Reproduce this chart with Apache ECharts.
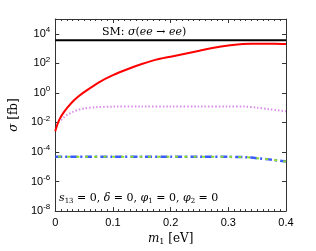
<!DOCTYPE html>
<html><head><meta charset="utf-8">
<script src="https://cdn.jsdelivr.net/npm/echarts@6/dist/echarts.min.js"></script>
<style>html,body{margin:0;padding:0;background:#fff}#c{width:316px;height:251px}</style>
</head><body><div id="c"></div>
<script>
// m1 values [eV]
var m1Red = [0.0, 0.005, 0.01, 0.015, 0.02, 0.03, 0.04, 0.05, 0.075, 0.1, 0.125, 0.15, 0.175, 0.2, 0.225, 0.25, 0.275, 0.3, 0.325, 0.34, 0.36, 0.38, 0.4];
var log10Red = [-2.6, -2.0, -1.6, -1.3, -1.05, -0.6, -0.25, 0.05, 0.7, 1.2, 1.6, 1.95, 2.25, 2.45, 2.65, 2.85, 3.05, 3.2, 3.3, 3.33, 3.33, 3.33, 3.3];
var m1Mag = [0.01, 0.015, 0.02, 0.03, 0.04, 0.05, 0.07, 0.1, 0.15, 0.2, 0.25, 0.3, 0.33, 0.35, 0.37, 0.4];
var log10Mag = [-1.85, -1.65, -1.5, -1.3, -1.15, -1.05, -0.97, -0.93, -0.92, -0.92, -0.92, -0.92, -0.93, -1.0, -1.1, -1.25];
var m1Low = [0.0, 0.05, 0.1, 0.15, 0.2, 0.25, 0.3, 0.33, 0.35, 0.37, 0.4];
var log10Blue = [-4.33, -4.33, -4.33, -4.33, -4.33, -4.33, -4.33, -4.35, -4.42, -4.5, -4.65];
var log10Green = [-4.33, -4.33, -4.33, -4.33, -4.33, -4.33, -4.33, -4.35, -4.42, -4.5, -4.65];
var smValue = 3600;
var xTicks = [0, 0.1, 0.2, 0.3, 0.4];
var yTickExps = [-8, -6, -4, -2, 0, 2, 4];

function pairs(xs, ls){ return xs.map(function(x,i){ return [x, Math.pow(10, ls[i])]; }); }

var chart = echarts.init(document.getElementById('c'), null, {renderer:'canvas'});
var axisCol = '#333';
var serif = '"DejaVu Serif", "Liberation Serif", serif';
var sans = '"Liberation Sans", Arial, sans-serif';
chart.setOption({
  animation:false,
  grid:{left:41, right:30, top:19, bottom:36, show:false},
  xAxis:[{
    type:'value', min:0, max:0.4, interval:0.1, position:'bottom',
    axisLine:{show:true, onZero:false, lineStyle:{color:axisCol, width:1}},
    axisTick:{show:true, inside:true, length:4, lineStyle:{color:axisCol}},
    minorTick:{show:true, splitNumber:10, length:2, lineStyle:{color:axisCol}},
    splitLine:{show:false},
    axisLabel:{color:'#000', fontFamily:sans, fontSize:11, margin:6,
      formatter:function(v){ return xTicks.indexOf(Math.round(v*10)/10)>=0 ? String(Math.round(v*10)/10) : ''; }},
    name:'{i|m}{s|1}{n| [eV]}', nameLocation:'middle', nameGap:19,
    nameTextStyle:{rich:{i:{fontFamily:serif, fontStyle:'italic', fontSize:12, color:'#000'}, s:{fontFamily:serif, fontSize:8, verticalAlign:'bottom', padding:[6,0,0,0], color:'#000'}, n:{fontFamily:serif, fontSize:12, color:'#000'}}}
  },{
    type:'value', min:0, max:0.4, interval:0.1, position:'top',
    axisLine:{show:true, onZero:false, lineStyle:{color:axisCol, width:1}},
    axisTick:{show:true, inside:true, length:4, lineStyle:{color:axisCol}},
    minorTick:{show:true, splitNumber:10, length:2, lineStyle:{color:axisCol}},
    splitLine:{show:false}, axisLabel:{show:false}
  }],
  yAxis:[{
    type:'log', logBase:10, min:1e-8, max:1e5, interval:2, position:'left',
    axisLine:{show:true, onZero:false, lineStyle:{color:axisCol, width:1}},
    axisTick:{show:true, inside:true, length:4, lineStyle:{color:axisCol}},
    splitLine:{show:false},
    axisLabel:{showMaxLabel:false, margin:5, formatter:function(v){
        var e = Math.round(Math.log10(v));
        if (yTickExps.indexOf(e) < 0) return '';
        return '{b|10}{s|' + e + '}'; },
      rich:{b:{fontFamily:sans, fontSize:11, color:'#000'}, s:{fontFamily:sans, fontSize:8, color:'#000', verticalAlign:'top', padding:[0,0,8,0]}}},
    name:'{i|σ}{n| [fb]}', nameLocation:'middle', nameGap:31, nameRotate:90,
    nameTextStyle:{rich:{i:{fontFamily:serif, fontStyle:'italic', fontSize:12, color:'#000'}, n:{fontFamily:serif, fontSize:12, color:'#000'}}}
  },{
    type:'log', logBase:10, min:1e-8, max:1e5, interval:2, position:'right',
    axisLine:{show:true, onZero:false, lineStyle:{color:axisCol, width:1}},
    axisTick:{show:true, inside:true, length:4, lineStyle:{color:axisCol}},
    splitLine:{show:false}, axisLabel:{show:false}
  }],
  series:[
    {type:'line', name:'SM', data:[[0, smValue],[0.4, smValue]], showSymbol:false, lineStyle:{color:'#000', width:2}, z:3},
    {type:'line', name:'red', data:pairs(m1Red, log10Red), showSymbol:false, smooth:0.3, lineStyle:{color:'#ff0000', width:2}, z:4},
    {type:'line', name:'mag', data:pairs(m1Mag, log10Mag), showSymbol:false, smooth:0.3, lineStyle:{color:'#d98be8', width:2, type:[1.5,2]}, z:4},
    {type:'line', name:'blue', data:pairs(m1Low, log10Blue), showSymbol:false, smooth:0.3, lineStyle:{color:'#3a5cff', width:2.5, type:[7,3,2,3]}, z:4},
    {type:'line', name:'green', data:pairs(m1Low, log10Green), showSymbol:false, smooth:0.3, lineStyle:{color:'#8fdc2a', width:2, type:[3,6], dashOffset:-3}, z:5}
  ],
  graphic:[
    {type:'text', left:102, top:27, style:{text:'{n|SM: }{i|σ}{n|(}{i|ee}{n| → }{i|ee}{n|)}',
      rich:{n:{fontFamily:serif, fontSize:11, fill:'#000'}, i:{fontFamily:serif, fontStyle:'italic', fontSize:11, fill:'#000'}}}},
    {type:'text', left:59, top:193, style:{text:'{i|s}{s|13}{n| = 0, }{i|δ}{n| = 0, }{i|φ}{s|1}{n| = 0, }{i|φ}{s|2}{n| = 0}',
      rich:{n:{fontFamily:serif, fontSize:11, fill:'#000'}, i:{fontFamily:serif, fontStyle:'italic', fontSize:11, fill:'#000'}, s:{fontFamily:serif, fontSize:7, fill:'#000', padding:[5,0,0,0]}}}}
  ]
});
</script></body></html>
